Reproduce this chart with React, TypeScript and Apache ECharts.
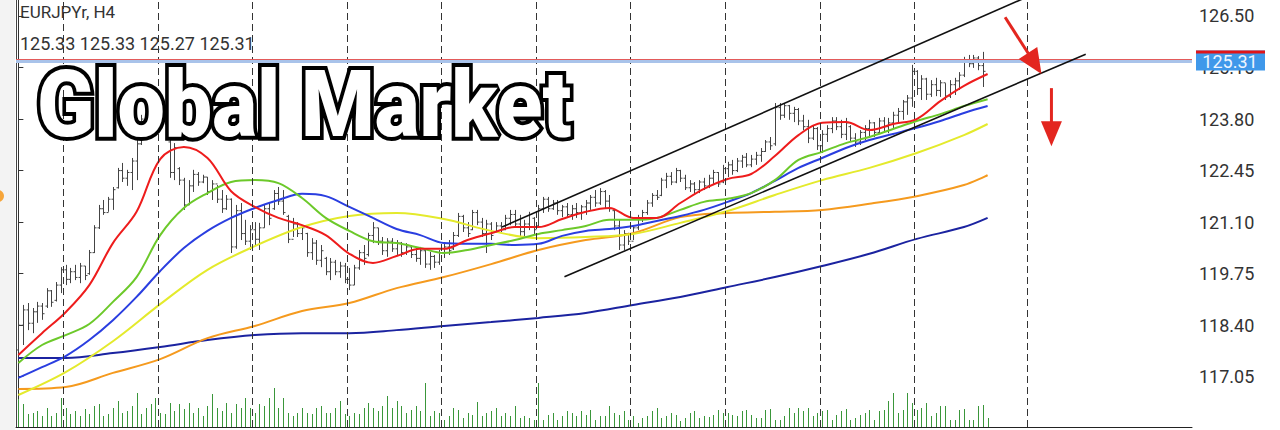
import React, { useEffect, useRef } from "react";
import * as echarts from "echarts";

const symbolTitle = "EURJPYr, H4";
const lastBarOHLC = ["125.33", "125.33", "125.27", "125.31"];
const watermark = "Global Market";
const priceTicks = [117.05, 118.4, 119.75, 121.1, 122.45, 123.8, 125.15, 126.5];
const lastPrice = 125.31;
const askPrice = 125.37;
const gridLineIdx = [9.5, 29.5, 49.5, 69.5, 89.5, 109.5, 129.5, 149.5, 169.5, 189.5, 213.4];

const opens = [
  117.75, 118.4, 118.8, 118.45, 118.75, 118.9, 118.9, 119.3, 119.05, 119.45,
  119.85, 119.6, 119.8, 119.65, 119.95, 119.75, 120.3, 120.95, 121.45, 121.35,
  121.7, 122.0, 122.45, 122.25, 122.4, 122.7, 123.15, 123.8, 123.95, 124.15,
  123.95, 123.85, 123.2, 122.4, 122.5, 122.2, 121.55, 122.05, 122.35, 122.15,
  122.28, 121.9, 122.1, 121.7, 121.45, 121.7, 120.45, 121.4, 120.8, 120.6,
  120.9, 120.65, 120.95, 121.45, 121.45, 121.85, 121.65, 121.25, 120.65, 121.05,
  120.8, 120.8, 120.3, 120.55, 120.1, 120.15, 119.8, 120.05, 119.8, 119.95,
  119.6, 119.45, 119.9, 120.3, 120.25, 120.75, 120.95, 120.6, 120.35, 120.6,
  120.4, 120.55, 120.3, 120.45, 120.25, 120.15, 120.35, 120.0, 120.2, 120.05,
  120.3, 120.45, 120.4, 120.75, 121.25, 120.95, 120.9, 121.35, 121.1, 120.8,
  121.05, 120.85, 121.0, 120.9, 121.2, 121.3, 121.05, 120.85, 121.05, 121.2,
  121.0, 121.45, 121.7, 121.45, 121.6, 121.4, 121.5, 121.3, 121.45, 121.35,
  121.5, 121.6, 121.75, 121.6, 121.9, 121.65, 121.4, 121.0, 120.5, 120.8,
  120.6, 120.95, 121.2, 121.35, 121.6, 121.8, 121.8, 122.2, 122.3, 122.15,
  122.45, 122.25, 122.0, 122.1, 121.95, 122.15, 122.05, 122.25, 122.4, 122.15,
  122.5, 122.6, 122.45, 122.7, 122.8, 122.6, 122.75, 122.85, 122.95, 123.2,
  123.15, 124.1, 123.9, 124.15, 123.95, 124.05, 123.75, 123.6, 123.3, 123.55,
  123.1, 123.4, 123.55, 123.75, 123.6, 123.4, 123.6, 123.3, 123.2, 123.45,
  123.55, 123.7, 123.45, 123.75, 123.6, 123.7, 123.9, 124.0, 124.25, 124.35,
  125.05, 124.6, 124.85, 124.45, 124.7, 124.55, 124.75, 124.4, 124.7, 124.8,
  124.95, 125.35, 125.25, 125.4, 125.2, 125.33,
];

const highs = [
  118.54, 118.93, 118.98, 118.85, 119.01, 118.98, 119.37, 119.32, 119.53, 119.92,
  119.98, 119.9, 119.98, 120.03, 119.95, 120.37, 121.02, 121.55, 121.68, 121.76,
  122.02, 122.52, 122.65, 122.47, 122.78, 123.25, 123.91, 124.09, 124.3, 124.43,
  124.3, 124.17, 123.25, 123.17, 122.54, 122.26, 122.2, 122.47, 122.41, 122.34,
  122.28, 122.2, 122.07, 121.94, 121.81, 121.72, 121.55, 121.6, 121.16, 121.02,
  121.1, 121.08, 121.55, 121.6, 121.94, 122.02, 121.94, 121.29, 121.21, 121.1,
  121.02, 120.82, 120.68, 120.63, 120.5, 120.19, 120.16, 120.11, 120.06, 120.03,
  119.9, 119.98, 120.37, 120.5, 120.82, 121.1, 120.95, 120.71, 120.68, 120.68,
  120.63, 120.58, 120.55, 120.5, 120.42, 120.45, 120.37, 120.32, 120.24, 120.37,
  120.55, 120.63, 120.84, 121.34, 121.29, 121.1, 121.42, 121.42, 121.21, 121.16,
  121.1, 121.1, 121.1, 121.29, 121.42, 121.42, 121.29, 121.16, 121.37, 121.23,
  121.55, 121.76, 121.76, 121.68, 121.68, 121.55, 121.6, 121.55, 121.6, 121.55,
  121.68, 121.81, 121.94, 121.99, 121.94, 121.81, 121.42, 121.16, 120.89, 120.82,
  121.02, 121.29, 121.42, 121.68, 121.86, 121.94, 122.26, 122.39, 122.41, 122.52,
  122.47, 122.34, 122.2, 122.15, 122.2, 122.26, 122.34, 122.47, 122.41, 122.6,
  122.68, 122.73, 122.78, 122.86, 122.91, 122.86, 122.94, 123.04, 123.25, 123.33,
  124.22, 124.22, 124.22, 124.17, 124.12, 124.09, 123.91, 123.78, 123.64, 123.59,
  123.51, 123.64, 123.85, 123.85, 123.78, 123.83, 123.64, 123.43, 123.51, 123.64,
  123.78, 123.72, 123.83, 123.85, 123.83, 123.99, 124.09, 124.3, 124.43, 125.22,
  125.08, 124.95, 124.88, 124.82, 124.88, 124.82, 124.74, 124.82, 124.88, 125.03,
  125.43, 125.48, 125.48, 125.45, 125.56, 125.33,
];

const lows = [
  117.7, 117.88, 118.27, 118.19, 118.46, 118.54, 118.85, 118.88, 119.02, 119.24,
  119.45, 119.5, 119.58, 119.5, 119.58, 119.72, 120.29, 120.92, 121.29, 121.37,
  121.42, 121.98, 122.15, 122.05, 121.94, 122.2, 123.12, 123.64, 123.78, 123.83,
  123.72, 123.64, 122.26, 122.2, 122.07, 121.42, 121.55, 121.89, 122.05, 122.12,
  121.81, 121.68, 121.6, 121.34, 121.42, 120.29, 120.4, 120.63, 120.5, 120.37,
  120.5, 120.37, 120.95, 121.02, 121.42, 121.55, 121.29, 120.55, 120.71, 120.71,
  120.63, 120.19, 120.11, 119.98, 119.92, 119.71, 119.58, 119.71, 119.64, 119.5,
  119.32, 119.45, 119.85, 119.98, 120.2, 120.55, 120.5, 120.24, 120.19, 120.32,
  120.24, 120.19, 120.24, 120.16, 120.06, 119.98, 119.9, 119.85, 119.9, 119.98,
  120.16, 120.24, 120.37, 120.71, 120.84, 120.71, 120.89, 121.02, 120.71, 120.29,
  120.63, 120.82, 120.84, 120.89, 121.02, 120.95, 120.71, 120.71, 120.89, 120.76,
  120.98, 121.34, 121.37, 121.42, 121.29, 121.23, 121.21, 121.16, 121.21, 121.16,
  121.29, 121.42, 121.5, 121.55, 121.47, 121.37, 120.89, 120.37, 120.37, 120.5,
  120.63, 120.89, 121.1, 121.29, 121.5, 121.68, 121.78, 121.99, 122.07, 122.12,
  122.15, 121.94, 121.89, 121.84, 121.86, 121.94, 121.99, 122.07, 122.02, 122.12,
  122.28, 122.34, 122.41, 122.52, 122.54, 122.54, 122.6, 122.68, 122.94, 122.99,
  123.1, 123.78, 123.83, 123.78, 123.72, 123.64, 123.51, 123.17, 123.25, 122.99,
  122.91, 123.2, 123.43, 123.51, 123.3, 123.25, 123.2, 123.07, 123.12, 123.25,
  123.33, 123.33, 123.43, 123.46, 123.43, 123.56, 123.7, 123.78, 123.91, 124.12,
  124.43, 124.3, 124.3, 124.38, 124.4, 124.38, 124.3, 124.35, 124.43, 124.56,
  124.9, 125.16, 125.14, 125.08, 124.64, 125.27,
];

const closes = [
  118.4, 118.8, 118.45, 118.75, 118.9, 118.7, 119.3, 119.0, 119.45, 119.85,
  119.6, 119.8, 119.65, 119.95, 119.7, 120.3, 120.95, 121.45, 121.35, 121.7,
  121.95, 122.45, 122.25, 122.4, 122.7, 123.15, 123.8, 123.95, 124.15, 123.95,
  123.85, 123.7, 122.4, 123.05, 122.2, 121.55, 122.05, 122.35, 122.15, 122.28,
  121.9, 122.1, 121.7, 121.45, 121.7, 120.45, 121.4, 120.8, 120.6, 120.9,
  120.65, 120.95, 121.45, 121.2, 121.85, 121.65, 121.35, 120.65, 121.05, 120.8,
  120.95, 120.3, 120.55, 120.1, 120.35, 119.8, 120.05, 119.8, 119.95, 119.6,
  119.45, 119.9, 120.3, 120.15, 120.75, 120.95, 120.6, 120.35, 120.6, 120.4,
  120.55, 120.3, 120.45, 120.25, 120.15, 120.35, 120.0, 120.2, 120.05, 120.3,
  120.45, 120.35, 120.75, 121.25, 120.95, 120.8, 121.35, 121.1, 120.8, 121.05,
  120.75, 121.0, 120.9, 121.2, 121.3, 121.05, 120.85, 121.05, 121.3, 120.9,
  121.45, 121.7, 121.45, 121.6, 121.4, 121.5, 121.3, 121.45, 121.35, 121.5,
  121.6, 121.75, 121.6, 121.9, 121.65, 121.45, 121.0, 120.5, 120.8, 120.6,
  120.95, 121.2, 121.35, 121.6, 121.8, 121.75, 122.2, 122.3, 122.15, 122.45,
  122.25, 122.0, 122.1, 121.95, 122.15, 122.05, 122.25, 122.4, 122.1, 122.5,
  122.6, 122.45, 122.7, 122.8, 122.6, 122.75, 122.85, 122.95, 123.2, 123.1,
  124.1, 123.9, 124.15, 123.95, 124.05, 123.75, 123.6, 123.3, 123.55, 123.1,
  123.4, 123.55, 123.75, 123.6, 123.4, 123.7, 123.3, 123.2, 123.45, 123.55,
  123.7, 123.45, 123.75, 123.6, 123.7, 123.9, 124.0, 124.25, 124.35, 125.05,
  124.6, 124.85, 124.45, 124.7, 124.55, 124.75, 124.4, 124.7, 124.8, 124.95,
  125.35, 125.25, 125.4, 125.2, 125.05, 125.31,
];

const volumes = [
  28, 23, 13, 14, 16, 11, 19, 11, 14, 29, 19, 13, 16, 11, 18, 13, 21, 23, 11, 13,
  19, 26, 14, 16, 21, 34, 13, 19, 23, 29, 14, 13, 24, 16, 23, 18, 24, 14, 19, 11,
  21, 33, 19, 16, 24, 14, 23, 19, 29, 19, 14, 23, 21, 29, 39, 19, 29, 14, 11, 14,
  19, 14, 13, 19, 21, 14, 14, 19, 26, 13, 11, 14, 13, 19, 24, 19, 16, 21, 31, 19,
  26,
  21, 14, 17, 21, 16, 44, 11, 16, 14, 7, 11, 19, 17, 9, 14, 12, 25, 11, 14, 16,
  19, 11, 14, 11, 21, 9, 11, 9, 7, 44, 7, 12, 14, 7, 11, 16, 14, 11, 16, 12,
  17, 7, 11, 11, 21, 14, 12, 16, 7, 11, 4, 9, 11, 16,
  19, 9, 11, 14, 12, 6, 9, 14, 16, 9, 11, 10, 12, 17, 14, 14, 12, 11, 16, 17,
  12, 9, 9, 17, 18, 7, 7, 11, 19, 14, 19, 16, 19, 11, 14, 16, 17, 7, 12, 16,
  18, 7, 9, 12, 14, 17, 7, 16, 17, 26, 34, 14, 17, 34, 24, 17, 19, 24, 11, 14,
  21, 21, 7, 7, 17, 18, 7, 7, 21, 22, 9,
];

const ma5Idx = [
  0, 5, 10, 15, 20, 25, 30, 35, 40, 45, 50, 55, 60, 65, 70, 75, 80, 85, 90, 95,
  100, 105, 110, 115, 120, 125, 130, 135, 140, 145, 150, 155, 160, 165, 170, 175,
  180, 185, 190, 195, 200, 205,
];
const redMA = [
  117.62, 118.19, 118.74, 119.45, 120.55, 121.37, 122.75, 123.07, 122.78, 121.91,
  121.5, 121.21, 121.02, 120.76, 120.27, 120.03, 120.21, 120.4, 120.4, 120.63,
  120.81, 120.97, 120.97, 121.18, 121.37, 121.47, 121.21, 121.21, 121.6, 121.97,
  122.23, 122.36, 122.83, 123.38, 123.7, 123.72, 123.51, 123.67, 123.8, 124.27,
  124.67, 124.98,
];
const greenMA = [
  117.41, 117.88, 118.14, 118.43, 119.01, 119.66, 120.76, 121.47, 121.86, 122.15,
  122.2, 122.12, 121.73, 121.21, 120.87, 120.6, 120.55, 120.42, 120.29, 120.37,
  120.5, 120.63, 120.79, 120.89, 121.0, 121.16, 121.16, 121.21, 121.42, 121.63,
  121.71, 121.86, 122.2, 122.73, 122.94, 123.17, 123.33, 123.54, 123.75, 123.93,
  124.14, 124.32,
];
const blueMA = [
  117.02, 117.3, 117.59, 118.01, 118.53, 119.14, 119.82, 120.42, 120.87, 121.21,
  121.47, 121.68, 121.84, 121.78, 121.5, 121.21, 120.92, 120.76, 120.55, 120.53,
  120.53, 120.5, 120.53, 120.74, 120.87, 120.92, 121.0, 121.13, 121.26, 121.42,
  121.63, 121.86, 122.18, 122.52, 122.78, 123.04, 123.25, 123.41, 123.57, 123.75,
  123.96, 124.14,
];
const ma10Idx = [0, 10, 20, 30, 40, 50, 60, 70, 80, 90, 100, 110, 120, 130, 140, 150, 160, 170, 180, 190, 200, 205];
const yellowMA = [
  116.57, 117.17, 117.98, 118.95, 119.85, 120.47, 120.97, 121.26, 121.34, 121.18,
  120.87, 120.68, 120.71, 120.79, 121.08, 121.39, 121.81, 122.2, 122.52, 122.91,
  123.38, 123.67,
];
const orangeMA = [
  116.73, 116.78, 117.15, 117.51, 118.06, 118.38, 118.77, 118.98, 119.37, 119.66,
  120.0, 120.37, 120.63, 120.81, 121.23, 121.34, 121.37, 121.42, 121.58, 121.78,
  122.07, 122.33,
];
const navyMA = [
  117.54, 117.54, 117.67, 117.83, 118.01, 118.14, 118.19, 118.19, 118.27, 118.38,
  118.48, 118.59, 118.72, 118.93, 119.14, 119.4, 119.66, 119.95, 120.27, 120.66,
  120.97, 121.21,
];

const channelUpper = [[102.3, 120.97], [214.3, 127.05]];
const channelLower = [[115.5, 119.67], [225.75, 125.5]];
const arrowDiag = [[208.7, 126.466], [216.4, 124.98]];
const arrowDown = [[218.5, 124.61], [218.5, 123.09]];

const X_MIN = -0.5;
const X_MAX = 248.23;
const Y_MIN = 115.732;
const Y_MAX = 126.919;
const FONT = "Roboto, 'Noto Sans', sans-serif";
const RED = "#e3261f";

export default function App() {
  const ref = useRef<HTMLDivElement>(null);

  useEffect(() => {
    document.body.style.margin = "0";
    const chart = echarts.init(ref.current as HTMLDivElement, null, { renderer: "svg" });

    const ohlc = opens.map((o, i) => [i, o, closes[i], lows[i], highs[i]]);
    const vol = volumes.map((v, i) => [i, v]);
    const pts = (idx: number[], vals: number[]) => idx.map((x, i) => [x, vals[i]]);
    const maLine = (name: string, color: string, idx: number[], vals: number[]) => ({
      type: "line",
      name,
      xAxisIndex: 0,
      yAxisIndex: 0,
      data: pts(idx, vals),
      symbol: "none",
      smooth: 0.35,
      silent: true,
      z: 4,
      lineStyle: { color, width: 2 },
    });

    const option: any = {
      animation: false,
      backgroundColor: "#ffffff",
      grid: [
        { left: 16, right: 88, top: 0, bottom: 3, containLabel: false },
        { left: 16, right: 88, top: 367, bottom: 3, containLabel: false },
      ],
      xAxis: [
        {
          type: "value", gridIndex: 0, min: X_MIN, max: X_MAX,
          axisLine: { show: true, onZero: false, lineStyle: { color: "#222", width: 1 } },
          axisTick: { show: false }, axisLabel: { show: false }, splitLine: { show: false },
        },
        {
          type: "value", gridIndex: 1, min: X_MIN, max: X_MAX, show: false,
          splitLine: { show: false },
        },
      ],
      yAxis: [
        {
          type: "value", gridIndex: 0, position: "right", min: Y_MIN, max: Y_MAX,
          axisLine: { show: true, lineStyle: { color: "#333", width: 1 } },
          axisTick: { show: true, length: 5, customValues: priceTicks, lineStyle: { color: "#333" } },
          axisLabel: {
            show: true, customValues: priceTicks, margin: 7, color: "#333",
            fontSize: 18, fontFamily: FONT,
            formatter: (v: number) => v.toFixed(2),
          },
          splitLine: { show: false },
        },
        {
          type: "value", gridIndex: 0, position: "left", min: Y_MIN, max: Y_MAX,
          axisLine: { show: true, lineStyle: { color: "#444", width: 1 } },
          axisTick: { show: false }, axisLabel: { show: false }, splitLine: { show: false },
        },
        {
          type: "value", gridIndex: 1, min: 0, max: 60, show: false, splitLine: { show: false },
        },
      ],
      series: [
        {
          type: "line",
          name: "guides",
          xAxisIndex: 0,
          yAxisIndex: 0,
          data: [],
          z: 1,
          silent: true,
          markLine: {
            silent: true,
            symbol: ["none", "none"],
            label: { show: false },
            animation: false,
            data: gridLineIdx.map((x) => ({
              xAxis: x,
              lineStyle: { color: "#333", width: 1, type: [7, 4] },
            })),
          },
        },
        {
          type: "custom",
          name: "volume",
          xAxisIndex: 1,
          yAxisIndex: 2,
          data: vol,
          encode: { x: 0, y: 1 },
          z: 2,
          silent: true,
          renderItem: (params: any, api: any) => {
            const top = api.coord([api.value(0), api.value(1)]);
            const base = api.coord([api.value(0), 0]);
            const cx = Math.round(top[0]) + 0.5;
            return {
              type: "line",
              shape: { x1: cx, y1: base[1], x2: cx, y2: top[1] },
              style: { stroke: "#3a963a", lineWidth: 1 },
            };
          },
        },
        {
          type: "custom",
          name: "EURJPYr",
          xAxisIndex: 0,
          yAxisIndex: 0,
          data: ohlc,
          encode: { x: 0, y: [1, 2, 3, 4] },
          z: 3,
          silent: true,
          renderItem: (params: any, api: any) => {
            const x = api.value(0);
            const pO = api.coord([x, api.value(1)]);
            const pC = api.coord([x, api.value(2)]);
            const pL = api.coord([x, api.value(3)]);
            const pH = api.coord([x, api.value(4)]);
            const cx = Math.round(pH[0]) + 0.5;
            const st = { stroke: "#444444", lineWidth: 1 };
            return {
              type: "group",
              children: [
                { type: "line", shape: { x1: cx, y1: pH[1], x2: cx, y2: pL[1] }, style: st },
                { type: "line", shape: { x1: cx - 2, y1: pO[1], x2: cx, y2: pO[1] }, style: st },
                { type: "line", shape: { x1: cx, y1: pC[1], x2: cx + 2, y2: pC[1] }, style: st },
              ],
            };
          },
        },
        maLine("MA slow", "#1b23a0", ma10Idx, navyMA),
        maLine("MA orange", "#f59a1e", ma10Idx, orangeMA),
        maLine("MA yellow", "#e4ea2c", ma10Idx, yellowMA),
        maLine("MA blue", "#2a3ee0", ma5Idx, blueMA),
        maLine("MA green", "#6cc92a", ma5Idx, greenMA),
        maLine("MA red", "#ee1c1c", ma5Idx, redMA),
        {
          type: "line", name: "channel upper", xAxisIndex: 0, yAxisIndex: 0,
          data: channelUpper, symbol: "none", silent: true, z: 5,
          lineStyle: { color: "#111", width: 1.6 },
        },
        {
          type: "line", name: "channel lower", xAxisIndex: 0, yAxisIndex: 0,
          data: channelLower, symbol: "none", silent: true, z: 5,
          lineStyle: { color: "#111", width: 1.6 },
          markLine: {
            silent: true,
            symbol: ["none", "none"],
            label: { show: false },
            data: [
              { yAxis: lastPrice, lineStyle: { color: "#a9c3ea", width: 3, type: "solid" } },
              { yAxis: askPrice, lineStyle: { color: "#e35a5a", width: 1, type: "solid" } },
            ],
          },
        },
      ],
    };

    chart.setOption(option);

    const px = (pt: number[]) => chart.convertToPixel({ gridIndex: 0 }, pt) as number[];
    const arrow = (seg: number[][], headLen: number, halfW: number) => {
      const a = px(seg[0]);
      const b = px(seg[1]);
      const dx = b[0] - a[0];
      const dy = b[1] - a[1];
      const L = Math.hypot(dx, dy);
      const ux = dx / L;
      const uy = dy / L;
      const bx = b[0] - ux * headLen;
      const by = b[1] - uy * headLen;
      return [
        {
          type: "line", z: 100, silent: true,
          shape: { x1: a[0], y1: a[1], x2: bx + ux * 3, y2: by + uy * 3 },
          style: { stroke: RED, lineWidth: 3 },
        },
        {
          type: "polygon", z: 100, silent: true,
          shape: { points: [[b[0], b[1]], [bx - uy * halfW, by + ux * halfW], [bx + uy * halfW, by - ux * halfW]] },
          style: { fill: RED },
        },
      ];
    };

    const yLast = px([0, lastPrice])[1];

    chart.setOption({
      graphic: [
        { type: "rect", z: 0, silent: true, shape: { x: 0, y: 0, width: 15, height: 430 }, style: { fill: "#f3f3f3" } },
        { type: "circle", z: 1, silent: true, shape: { cx: -2, cy: 196, r: 6 }, style: { fill: "#f6a53a" } },
        {
          type: "text", z: 100, silent: true, x: 20, y: 12,
          style: { text: symbolTitle, fill: "#333", font: `17px ${FONT}`, textVerticalAlign: "middle" },
        },
        {
          type: "text", z: 100, silent: true, x: 20, y: 43,
          style: { text: lastBarOHLC.join(" "), fill: "#333", font: `18px ${FONT}`, textVerticalAlign: "middle" },
        },
        {
          type: "text", z: 100, silent: true, x: 37, y: 105, scaleX: 0.915,
          style: {
            text: watermark, fill: "#ffffff", stroke: "#000000", lineWidth: 8,
            font: `900 92px ${FONT}`, textVerticalAlign: "middle",
          },
        },
        ...arrow(arrowDiag, 25, 11),
        ...arrow(arrowDown, 25, 10.5),
        {
          type: "rect", z: 100, silent: true,
          shape: { x: 1196, y: yLast - 11, width: 69, height: 20 },
          style: { fill: "#3f98ea" },
        },
        {
          type: "rect", z: 101, silent: true,
          shape: { x: 1196, y: yLast - 11, width: 69, height: 3 },
          style: { fill: "#e0141a" },
        },
        {
          type: "text", z: 102, silent: true, x: 1230, y: yLast,
          style: {
            text: lastPrice.toFixed(2), fill: "#eef5ff", font: `18px ${FONT}`,
            textAlign: "center", textVerticalAlign: "middle",
          },
        },
      ],
    });

    return () => chart.dispose();
  }, []);

  return <div ref={ref} style={{ width: 1280, height: 430 }} />;
}
